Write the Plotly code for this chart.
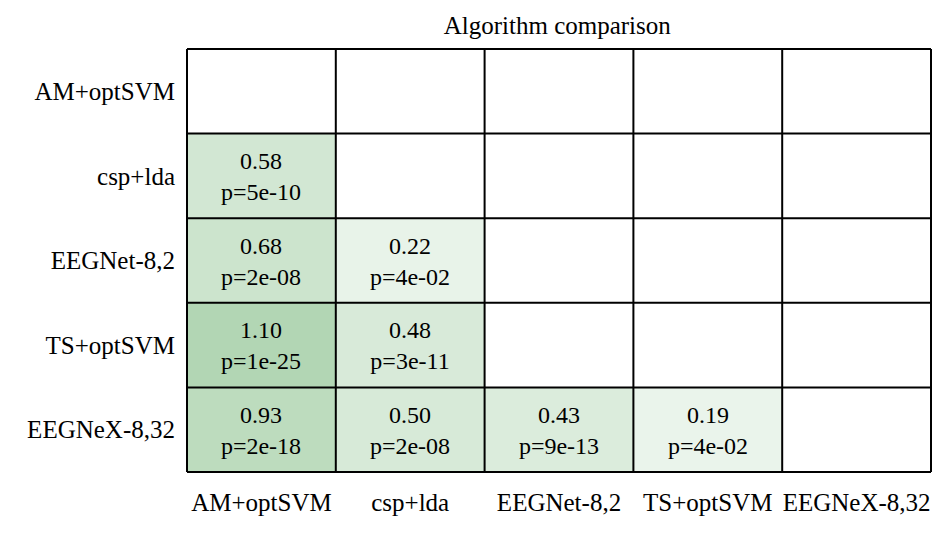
import numpy as np
import plotly.graph_objects as go

# algorithms compared (rows and columns)
algos = ['AM+optSVM', 'csp+lda', 'EEGNet-8,2', 'TS+optSVM', 'EEGNeX-8,32']

# effect sizes, lower triangle only (row, col)
effect = [
    [None, None, None, None, None],
    [0.58, None, None, None, None],
    [0.68, 0.22, None, None, None],
    [1.10, 0.48, None, None, None],
    [0.93, 0.50, 0.43, 0.19, None],
]
pvals = [
    [None, None, None, None, None],
    ['5e-10', None, None, None, None],
    ['2e-08', '4e-02', None, None, None],
    ['1e-25', '3e-11', None, None, None],
    ['2e-18', '2e-08', '9e-13', '4e-02', None],
]

z = np.array([[np.nan if v is None else v for v in row] for row in effect])
text = [['' if v is None else f'{v:.2f}<br>p={p}' for v, p in zip(rv, rp)]
        for rv, rp in zip(effect, pvals)]

font = 'Liberation Serif'

fig = go.Figure(go.Heatmap(
    z=z, x=algos, y=algos, text=text, texttemplate='%{text}',
    textfont=dict(family=font, size=24, color='black'),
    colorscale=[[0, 'rgb(246,250,246)'], [1, 'rgb(178,214,180)']],
    zmin=0, zmax=1.10, showscale=False, hoverongaps=False,
))

# black cell borders
n = len(algos)
for i in range(n + 1):
    fig.add_shape(type='line', xref='x', yref='y', x0=i - 0.5, x1=i - 0.5,
                  y0=-0.5, y1=n - 0.5, line=dict(color='black', width=2))
    fig.add_shape(type='line', xref='x', yref='y', x0=-0.5, x1=n - 0.5,
                  y0=i - 0.5, y1=i - 0.5, line=dict(color='black', width=2))

fig.update_xaxes(showgrid=False, zeroline=False, ticks='', ticklabelstandoff=12,
                 tickfont=dict(family=font, size=25, color='black'))
fig.update_yaxes(showgrid=False, zeroline=False, ticks='', autorange='reversed',
                 ticklabelstandoff=10, tickfont=dict(family=font, size=25, color='black'))
fig.update_layout(
    width=947, height=534,
    margin=dict(l=178, r=23, t=40, b=69),
    plot_bgcolor='white', paper_bgcolor='white',
    title=dict(text='Algorithm comparison', x=0.58, xanchor='center',
               y=0.985, yanchor='top',
               font=dict(family=font, size=25, color='black')),
)

fig.write_html('out.html')
